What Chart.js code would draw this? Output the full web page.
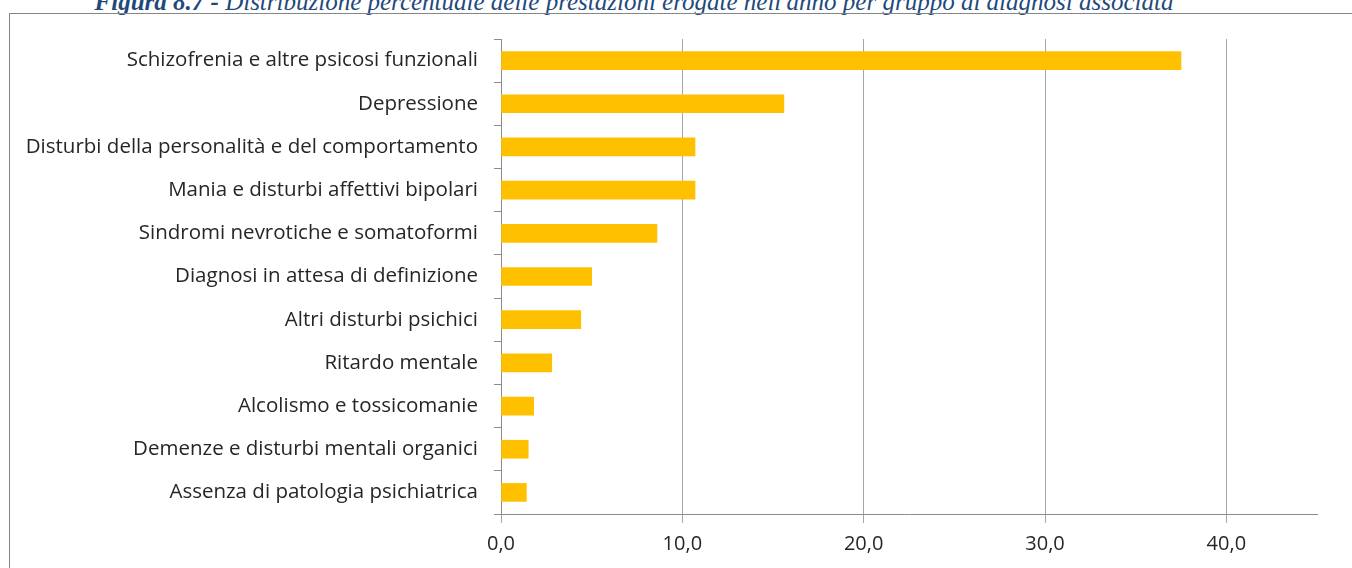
<!DOCTYPE html>
<html>
<head>
<meta charset="utf-8">
<script src="https://cdn.jsdelivr.net/npm/chart.js@4"></script>
<style>
  html, body { margin: 0; padding: 0; background: #fff; overflow: hidden; }
  #wrap { position: relative; width: 1352px; height: 568px; }
  #title {
    position: absolute; left: 0; width: 1268px; top: -11px; text-align: center;
    font-family: "Liberation Serif", serif; font-style: italic; font-size: 25px;
    line-height: 25px; color: #1F497D; white-space: nowrap;
  }
  #frame {
    position: absolute; left: 9px; top: 13px; width: 1400px; height: 600px;
    border: 1px solid #868686; box-sizing: border-box;
  }
  canvas { position: absolute; left: 0; top: 0; }
</style>
</head>
<body>
<div id="wrap">
  <div id="title"><b>Figura 8.7 -</b> Distribuzione percentuale delle prestazioni erogate nell'anno per gruppo di diagnosi associata</div>
  <div id="frame"></div>
  <canvas id="chart" width="1352" height="568"></canvas>
</div>
<script>
// Categorie (dall'alto verso il basso)
const categories = [
  'Schizofrenia e altre psicosi funzionali',
  'Depressione',
  'Disturbi della personalità e del comportamento',
  'Mania e disturbi affettivi bipolari',
  'Sindromi nevrotiche e somatoformi',
  'Diagnosi in attesa di definizione',
  'Altri disturbi psichici',
  'Ritardo mentale',
  'Alcolismo e tossicomanie',
  'Demenze e disturbi mentali organici',
  'Assenza di patologia psichiatrica'
];
// Percentuali
const percentages = [37.5, 15.6, 10.7, 10.7, 8.6, 5.0, 4.4, 2.8, 1.8, 1.5, 1.4];
// Tick dell'asse x
const xTicks = [0, 10, 20, 30, 40];

const ctx = document.getElementById('chart');

new Chart(ctx, {
  type: 'bar',
  data: {
    labels: categories,
    datasets: [{
      data: percentages,
      backgroundColor: '#FFC000',
      borderWidth: 0,
      barThickness: 18
    }]
  },
  options: {
    indexAxis: 'y',
    responsive: false,
    animation: false,
    layout: { padding: { top: 39, right: 35, left: 0, bottom: 0 } },
    plugins: {
      legend: { display: false },
      tooltip: { enabled: false }
    },
    scales: {
      x: {
        min: 0,
        max: 45,
        afterBuildTicks: (axis) => { axis.ticks = xTicks.map(v => ({ value: v })); },
        afterFit: (axis) => { axis.height = 54; },
        grid: {
          color: '#A6A6A6',
          lineWidth: 1,
          tickLength: 9,
          drawOnChartArea: true
        },
        border: { color: '#8C8C8C', width: 1 },
        ticks: {
          color: '#262626',
          font: { family: '"Open Sans", sans-serif', size: 20 },
          padding: 9,
          callback: (v) => Number(v).toFixed(1).replace('.', ',')
        }
      },
      y: {
        afterFit: (axis) => { axis.width = 501; },
        grid: {
          offset: true,
          drawOnChartArea: false,
          color: '#8C8C8C',
          tickLength: 7
        },
        border: { color: '#8C8C8C', width: 1 },
        ticks: {
          color: '#262626',
          font: { family: '"Open Sans", sans-serif', size: 20.5 },
          padding: 16
        }
      }
    }
  }
});
</script>
</body>
</html>
